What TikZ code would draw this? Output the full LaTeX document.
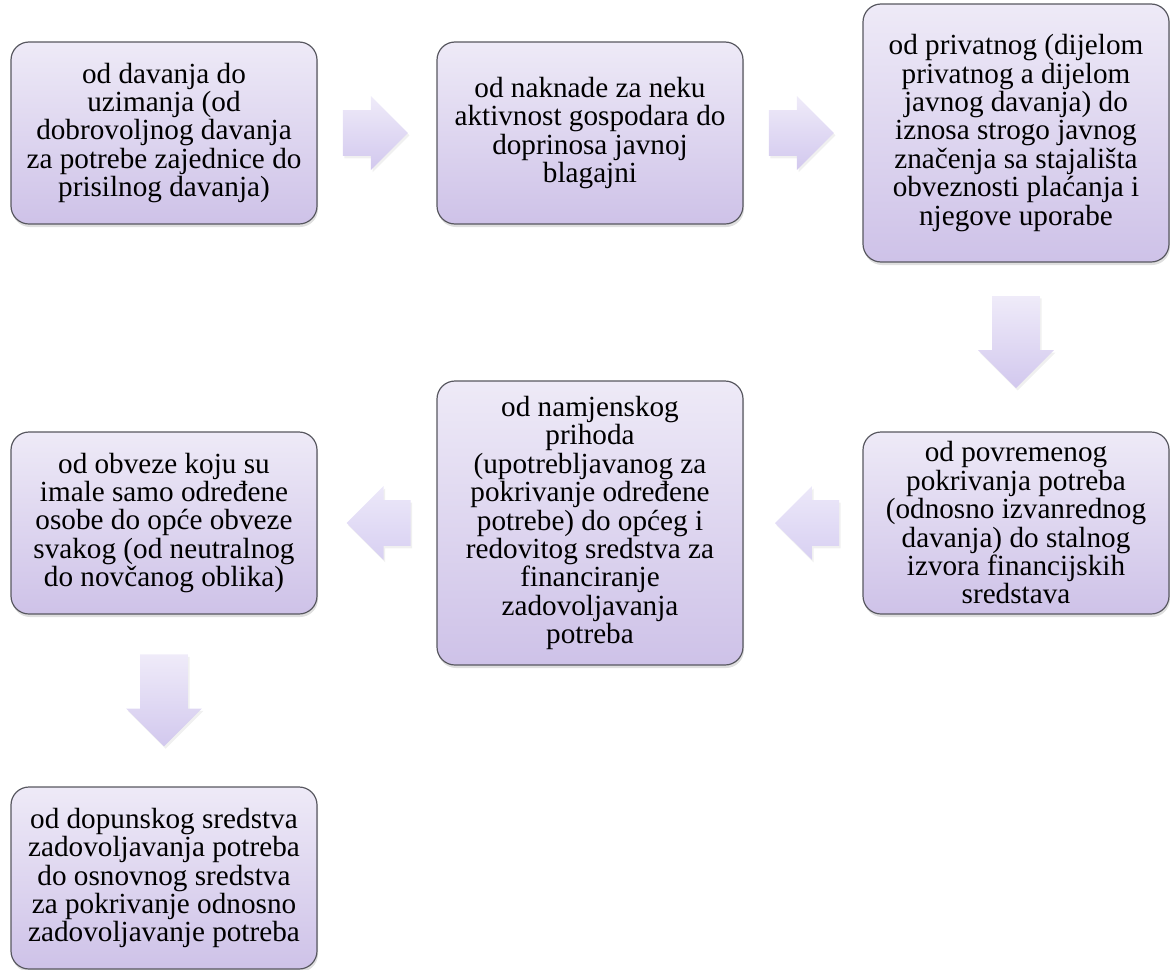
\documentclass[tikz,border=0pt]{standalone}
\usepackage{fontspec}
\setmainfont{Liberation Serif}
\usepackage{tikz}
\usetikzlibrary{positioning,calc,shapes.arrows,shadows}
\definecolor{boxtop}{RGB}{238,234,247}
\definecolor{boxbot}{RGB}{206,194,232}
\definecolor{boxline}{RGB}{88,88,96}
\definecolor{arrtop}{RGB}{239,235,249}
\definecolor{arrbot}{RGB}{210,200,238}
\definecolor{larrtop}{RGB}{236,232,249}
\definecolor{larrbot}{RGB}{216,208,242}
\tikzset{stage/.style={draw=boxline,line width=0.6pt,rounded corners=9pt,
    top color=boxtop,bottom color=boxbot,minimum width=153pt,minimum height=91pt,
    align=center,inner sep=2pt,font=\fontsize{14.6}{14.2}\selectfont,
    drop shadow={shadow xshift=0.5pt,shadow yshift=-1.5pt,opacity=0.25}}}
\tikzset{flow/.style={single arrow,inner sep=0pt,minimum width=0pt,
    single arrow head extend=7pt,top color=arrtop,bottom color=arrbot,
    drop shadow={shadow xshift=0.8pt,shadow yshift=-1.2pt,opacity=0.12}}}
\tikzset{rflow/.style={flow,minimum height=32.5pt}}
\tikzset{lflow/.style={flow,minimum height=32pt,shape border rotate=180,
    top color=larrtop,bottom color=larrbot}}
\tikzset{dflow/.style={flow,minimum height=46pt,shape border rotate=270}}
\def\hshaft{\rule{0pt}{22.5pt}}
\def\vshaft{\rule{23.5pt}{0pt}}

\begin{document}
\begin{tikzpicture}[x=0.5pt,y=-0.5pt,on grid]
  \useasboundingbox (0,0) rectangle (1170,969);
  % first row
  \node(s1)[stage] at (164,133) {od davanja do\\uzimanja (od\\dobrovoljnog davanja\\za potrebe zajednice do\\prisilnog davanja)};
  \node(s2)[stage,right=213pt of s1] {od naknade za neku\\aktivnost gospodara do\\doprinosa javnoj\\blagajni};
  \node(s3)[stage,right=213pt of s2,minimum height=129pt] {od privatnog (dijelom\\privatnog a dijelom\\javnog davanja) do\\iznosa strogo javnog\\značenja sa stajališta\\obveznosti plaćanja i\\njegove uporabe};
  % second row
  \node(s4)[stage,below=195pt of s3] {od povremenog\\pokrivanja potreba\\(odnosno izvanrednog\\davanja) do stalnog\\izvora financijskih\\sredstava};
  \node(s5)[stage,left=213pt of s4,minimum height=142pt] {od namjenskog\\prihoda\\(upotrebljavanog za\\pokrivanje određene\\potrebe) do općeg i\\redovitog sredstva za\\financiranje\\zadovoljavanja\\potreba};
  \node(s6)[stage,left=213pt of s5] {od obveze koju su\\imale samo određene\\osobe do opće obveze\\svakog (od neutralnog\\do novčanog oblika)};
  % last one
  \node(s7)[stage,below=177.5pt of s6] {od dopunskog sredstva\\zadovoljavanja potreba\\do osnovnog sredstva\\za pokrivanje odnosno\\zadovoljavanje potreba};
  % arrows
  \node(a12)[rflow] at ($(s1.east)!0.39!(s2.west)$) {\hshaft};
  \node(a23)[rflow] at ($(s2.east)!0.39!(s3.west)$) {\hshaft};
  \node(a34)[dflow] at ($(s3.south)!0.4!(s4.north)$) {\vshaft};
  \node(a45)[lflow] at ($(s4.west)!0.37!(s5.east)$) {\hshaft};
  \node(a56)[lflow] at ($(s5.west)!0.39!(s6.east)$) {\hshaft};
  \node(a67)[dflow] at ($(s6.south)!0.43!(s7.north)$) {\vshaft};
\end{tikzpicture}
\end{document}
